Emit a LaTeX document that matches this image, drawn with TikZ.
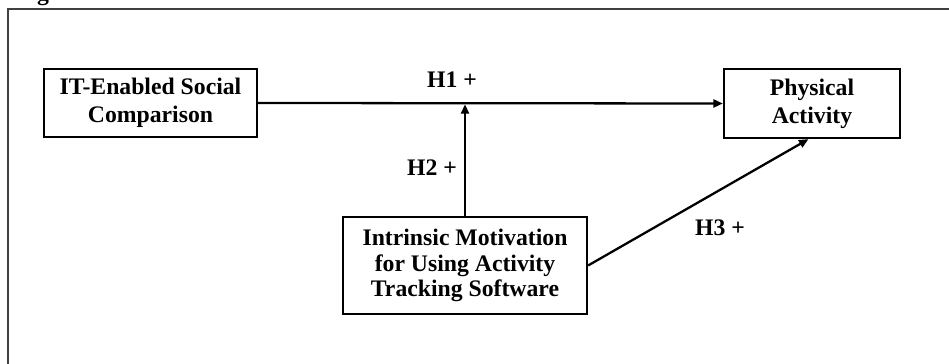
\documentclass[tikz,border=0pt]{standalone}
\usepackage{fontspec}
\setmainfont{Liberation Serif}
\usetikzlibrary{arrows.meta}

\begin{document}
\begin{tikzpicture}[x=0.02cm,y=-0.02cm]
        \tikzstyle{construct}=[rectangle,draw,line width=1.3pt,align=center,inner sep=0pt]
        \tikzstyle{hyp}=[line width=1.3pt,-{Triangle[length=1.9mm,width=1.6mm]}]
        \tikzstyle{hyplabel}=[font=\fontsize{13.5}{16}\selectfont\bfseries]
        \useasboundingbox (0,0) rectangle (949,364);
        \draw [line width=0.6pt,black!75] (8,9) rectangle (975,385);
        \node [anchor=base,hyplabel] (cut) at (43,0.5) {g};
        \node [construct,minimum width=4.26cm,minimum height=1.36cm,font=\fontsize{13.5}{16}\selectfont\bfseries] (social) at (150.5,103) {IT-Enabled Social\\Comparison};
        \node [construct,minimum width=3.52cm,minimum height=1.38cm,font=\fontsize{13.5}{16}\selectfont\bfseries] (activity) at (812,103.5) {Physical\\Activity};
        \node [construct,minimum width=4.88cm,minimum height=1.94cm,font=\fontsize{13.5}{14.5}\selectfont\bfseries] (motivation) at (465,265.5) {Intrinsic Motivation\\for Using Activity\\Tracking Software};
        \draw [hyp] (social.east) -- (activity.west);
        \coordinate (join) at (motivation.north |- social.east);
        \draw [hyp] (motivation.north) -- ([yshift=-0.7pt]join);
        \draw [hyp] (motivation.east) -- ([xshift=-2pt]activity.south);
        \node [hyplabel] (h1) at (452,80) {H1 +};
        \node [hyplabel] (h2) at (432,168) {H2 +};
        \node [hyplabel] (h3) at (720,228) {H3 +};
    \end{tikzpicture}
\end{document}
